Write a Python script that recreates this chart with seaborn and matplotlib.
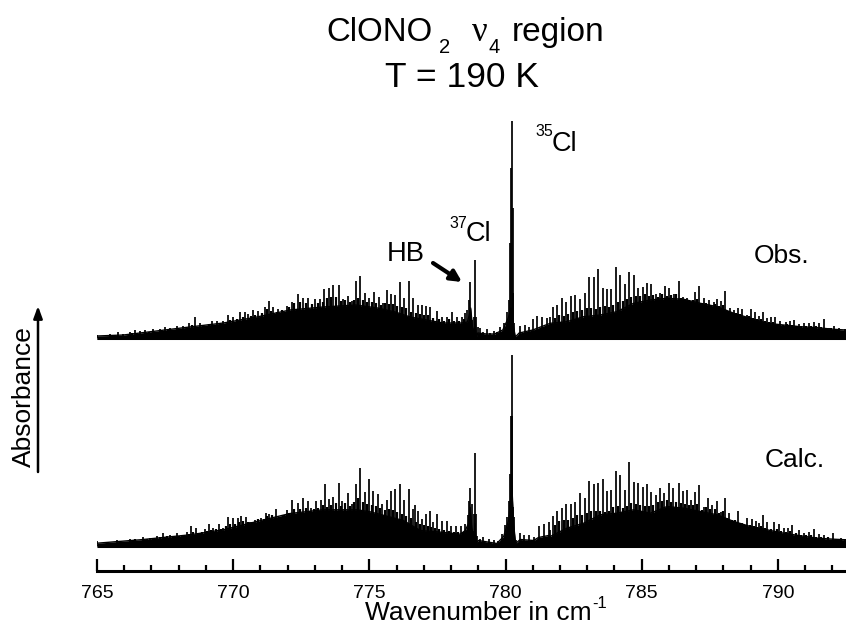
import matplotlib
matplotlib.use("Agg")
import matplotlib.pyplot as plt
import numpy as np
import pandas as pd
import seaborn as sns

# ---- observed spectrum: strong line tops (wavenumber, absorbance in arbitrary units)
obs_wn = [764.99,765.48,765.78,765.97,766.21,766.40,766.58,766.76,767.07,767.31,767.50,767.68,767.93,768.17,768.38,768.60,768.78,769.21,769.40,769.64,769.82,770.01,770.25,770.44,770.56,770.72,770.90,771.15,771.32,771.48,771.66,771.97,772.15,772.37,772.58,772.76,773.01,773.19,773.35,773.52,773.68,773.87,774.05,774.20,774.36,774.52,774.66,774.85,775.00,775.18,775.34,775.49,775.64,775.79,775.95,776.11,776.28,776.45,776.62,776.77,776.93,777.09,777.23,777.48,777.66,777.85,778.03,778.21,778.40,778.52,778.58,778.64,778.70,778.76,778.83,778.86,778.89,778.91,778.95,778.98,779.07,779.19,779.32,779.44,779.56,779.68,779.81,779.93,780.05,780.14,780.17,780.20,780.23,780.26,780.28,780.32,780.36,780.54,780.72,780.85,781.01,781.15,781.34,781.52,781.64,781.74,781.89,782.07,782.22,782.40,782.56,782.72,782.90,783.07,783.23,783.39,783.56,783.72,783.88,784.05,784.21,784.39,784.54,784.70,784.86,785.05,785.19,785.35,785.52,785.68,785.84,786.00,786.17,786.36,786.50,786.66,786.79,786.94,787.12,787.28,787.46,787.64,787.77,787.92,788.07,788.25,788.40,788.52,788.68,788.87,789.03,789.17,789.30,789.45,789.60,789.75,789.91,790.09,790.28,790.43,790.58,790.77,790.95,791.13,791.32,791.50,791.71,791.87,792.05,792.24,792.48]
obs_abs = [3,4,6.3,4,6.3,7.7,6.7,8.3,8.7,8.7,11.3,10.3,12,12,14.7,20.7,14.7,16.7,17,17,23,21.3,25.7,26.3,23.7,27.7,27,30.7,36.7,30.7,28.7,32,36,44.3,39.7,39.7,38.7,38.7,49.3,50.3,52.7,52.7,38.7,42,37.3,57,62,45,39.7,46,41.3,34.7,48,43.7,43,56.3,39.7,57,39.7,33,33,32.3,31.3,27.3,21.3,21.3,26.3,21.3,21.3,24.7,28,38,55.7,18,8,21,78,21,0.5,11,9.7,6.3,8.7,5.3,7.3,6.3,11.3,14.7,26.3,38,94.7,170,217,130,44.7,14.7,1.3,12,13,11.3,18.7,22.3,20.7,19.7,21.3,30.7,33,39.7,36.3,42,42.7,39,45.3,60.7,60.7,68.7,49.7,48.7,48.7,70.7,63,54,66.3,63.3,49.7,50.7,54.7,54,43.7,44.7,52,49.7,43.7,57.3,41.3,39.7,37.3,46,52,39.7,38,36.3,38.7,37.3,47,29.7,28,29.7,29,23,28.7,26.3,22,26.3,20.3,20.7,21.3,17,16.3,17,18,14,14.7,14.7,15.7,14.7,18.7,10.3,12,9.7,8.7]

# weaker lines standing on the background
obs_weak_wn = [766.3,766.9,767.2,767.6,768.0,768.5,768.9,769.1,769.5,769.9,770.15,770.35,770.65,770.8,771.05,771.25,771.4,771.6,771.8,772.05,772.25,772.47,772.67,772.88,773.1,773.28,773.45,773.6,773.78,773.96,774.12,774.28,774.44,774.6,774.76,774.92,775.1,775.26,775.42,775.57,775.72,775.87,776.03,776.2,776.36,776.54,776.7,776.85,777.0,777.16,777.35,777.57,777.75,777.94,778.12,778.3,778.46,781.8,781.98,782.15,782.31,782.48,782.64,782.81,782.98,783.15,783.31,783.47,783.64,783.8,783.96,784.13,784.3,784.46,784.62,784.78,784.95,785.12,785.27,785.43,785.6,785.76,785.92,786.08,786.26,786.43,786.58,786.72,786.87,787.03,787.2,787.37,787.55,787.7,787.85,788.0,788.16,788.32,788.46,788.6,788.78,788.95,789.1,789.24,789.38,789.52,789.68,789.83,790.0,790.18,790.35,790.5,790.68,790.86,791.04,791.22,791.41,791.6,791.8,791.96,792.15]
obs_weak_abs = [5,6,6.5,8,9,13,13,14,15.5,18,19,21,22,23,25,29,27,26,28,31,35,36,35,34,35,36,40,41,41,37,38,36,38,40,38,36,36,35,33,35,34,34,32,31,30,26,25,24,23,23,20,19,17,19,17,17,19,20,23,22,24,26,27,28,30,30,29,31,32,31,33,36,37,39,41,42,42,44,42,43,41,44,42,43,44,40,39,38,38,39,35,35,33,34,32,33,27,25,25,24,21,22,20,19,19,17,16,16,14,13.5,14,13.5,12,12,12,12,12,11,9,10,9]

# observed dense background of unresolved lines
obs_body_wn = [765,765.97,768.4,769.64,770.87,772.09,773.3,774.5,775.3,775.95,776.5,777.1,777.7,778.4,778.6,778.66,778.72,778.78,778.84,778.89,778.93,778.98,779.3,779.6,779.9,780.1,780.2,780.3,780.36,780.5,781,781.64,782.25,782.87,783.48,784.09,784.7,785.32,785.93,786.54,787.15,787.77,788.38,788.99,789.6,790.21,790.83,791.44,792.05,792.5]
obs_body_abs = [2,3,11,15,21,28,31,33,30,26,21,18,15,15,16,22,30,12,4,18,0.5,5,4,4,8,20,30,10,1,5,8,14.7,16.3,21.3,23,26.3,34.7,38,39.7,38.7,34.7,31.3,24.7,19.7,14.7,13,11.3,10.3,8.7,8]

# ---- calculated spectrum
calc_wn = [764.99,765.35,765.72,766.21,766.70,766.95,767.19,767.44,767.68,767.93,768.11,768.29,768.45,768.62,768.78,768.97,769.10,769.27,769.47,769.64,769.82,769.98,770.17,770.29,770.46,770.62,770.80,771.03,771.20,771.32,771.56,771.75,771.97,772.15,772.37,772.58,772.74,772.85,773.05,773.22,773.38,773.52,773.68,773.88,774.01,774.20,774.36,774.52,774.66,774.85,775.00,775.15,775.31,775.48,775.64,775.79,775.95,776.11,776.28,776.44,776.61,776.66,776.77,776.93,777.08,777.23,777.33,777.48,777.66,777.85,778.01,778.19,778.36,778.52,778.61,778.65,778.70,778.75,778.80,778.84,778.88,778.91,778.95,779.07,779.19,779.38,779.56,779.74,779.87,779.99,780.07,780.14,780.17,780.20,780.22,780.25,780.27,780.30,780.37,780.52,780.66,780.85,781.03,781.21,781.40,781.58,781.64,781.74,781.89,782.07,782.22,782.40,782.54,782.72,782.90,783.07,783.23,783.39,783.56,783.72,783.88,784.05,784.21,784.39,784.54,784.70,784.86,785.05,785.19,785.35,785.51,785.68,785.83,786.01,786.15,786.36,786.50,786.66,786.81,786.94,787.12,787.28,787.42,787.58,787.77,787.92,788.06,788.19,788.52,788.68,788.87,789.05,789.20,789.30,789.45,789.60,789.87,790.03,790.21,790.36,790.52,790.77,790.95,791.13,791.32,791.50,791.68,792.03,792.30,792.48]
calc_abs = [4.7,4,5.7,6.3,9,8,9.7,12.3,10.7,12.3,10.7,14,19.7,17.3,12.3,16.3,21.3,17.3,21.7,17.3,29,27.3,28,30,28.3,24,25.7,28,32.3,31.3,37,29,35.7,45.7,42.3,48,45,37.3,45,45.7,61.7,46.3,49,62.3,45,52.3,41.7,61.7,78,54,66.3,54.3,51.3,42,46,54.3,57,62,45.3,57,37,41,34.7,27,31.3,34.7,23.7,32,24.3,24.3,19.3,19.3,19.7,22,30.3,45,58,42,15,32,92.7,32,10,7,8.7,7,6,4.7,12,20.3,28.7,45,72,130,191,130,38.7,28.7,5.3,12.7,11,10.3,8.7,19.3,21.3,23.7,15.7,29.7,34.7,38,41.3,41.3,44,52.3,47.3,64.7,61.7,63,66.3,55,55.7,74.3,70.7,55.7,83.7,64,62.3,59,61.3,54,50.7,57.3,53,62.3,57.3,62.3,55,55.7,45.7,53.3,60.7,39,47.3,40.7,45,34,47.3,32.3,35,22.3,27.3,26.7,24.7,23,30.7,23.3,23.7,21.7,17.3,17.3,20.7,15.7,12.3,14,16.7,11.3,10.7,12.3,7.3,6.7]

calc_weak_wn = [766.4,766.85,767.05,767.3,767.56,767.8,768.0,768.2,768.37,768.53,768.7,768.87,769.03,769.18,769.37,769.55,769.73,769.9,770.08,770.23,770.37,770.54,770.7,770.92,771.12,771.26,771.44,771.65,771.85,772.06,772.25,772.47,772.66,772.8,772.95,773.13,773.3,773.45,773.6,773.78,773.95,774.1,774.28,774.44,774.6,774.76,774.92,775.08,775.23,775.4,775.56,775.72,775.87,776.03,776.2,776.36,776.52,776.72,776.85,777.0,777.16,777.28,777.4,777.57,777.75,777.93,778.1,778.27,778.44,781.8,781.98,782.15,782.31,782.47,782.63,782.81,782.98,783.15,783.31,783.47,783.64,783.8,783.96,784.13,784.3,784.46,784.62,784.78,784.95,785.12,785.27,785.43,785.6,785.75,785.92,786.08,786.26,786.43,786.58,786.73,786.87,787.03,787.2,787.35,787.5,787.68,787.85,787.99,788.12,788.3,788.44,788.6,788.78,788.96,789.12,789.25,789.38,789.53,789.73,789.95,790.12,790.28,790.44,790.65,790.86,791.04,791.22,791.41,791.6,791.85,792.15]
calc_weak_abs = [6.5,7,7.5,9,9.5,10,10,11,12,14,13,14,15,16,17,17,20,22,22,24,25,24,24,27,27,30,31,28,31,33,37,37,38,35,37,38,41,39,41,43,40,43,40,44,48,44,42,41,40,38,36,37,36,34,32,30,28,24,22,21,20,19,18,17,16,15,14,14,14,21,25,26,26,28,31,31,33,35,35,35,34,35,39,40,38,40,43,42,41,40,40,41,44,45,46,44,44,43,42,41,41,42,36,39,37,37,33,35,28,26,26,23,21,21,20,19,20,18,17,17,15,14,15,13,11,11,11,9,9,9,7]

calc_body_wn = [765,766.58,768.42,769.64,770.87,772.09,773.3,774.54,775.03,776.25,776.87,777.48,778.34,778.52,778.64,778.7,778.76,778.83,778.88,778.92,779.0,779.68,779.93,780.11,780.17,780.23,780.3,780.37,780.54,781.03,781.21,781.58,781.64,782.25,782.87,783.48,784.09,784.7,785.32,785.93,786.54,787.15,787.77,788.38,788.99,789.6,790.21,790.83,791.44,792.05,792.5]
calc_body_abs = [2.3,5.7,10.7,15.7,24,32,35.7,35.7,33.7,25,15,13.7,11.3,15,22,38,18,5,22,2,5,2,9,25,40,60,20,2,6,5,8,10,9,17.3,22.3,30.7,32.3,35.7,32.3,39,37.3,34,30.7,24,19,15.7,12.3,9.7,7.3,6.3,5.7]

major_ticks = [765,770,775,780,785,790]
minor_ticks = [766,767,768,769,771,772,773,774,776,777,778,779,781,782,783,784,786,787,788,789,791,792]
obs_offset = 207.5

sns.set_theme(style="white")
plt.rcParams["font.family"] = ["Liberation Sans", "DejaVu Sans"]

W, H = 846, 627
fig = plt.figure(figsize=(W / 100, H / 100), dpi=100, facecolor="white")
ax = fig.add_axes([97 / W, 1 - 571 / H, 1 - 97 / W, 471 / H])
ax.set_xlim(765, 792.5)
ax.set_ylim(-25.5, 445.5)


def spectrum(wn, ab, weak_wn, weak_ab, body_wn, body_ab, offset):
    body = pd.DataFrame({"wn": body_wn, "ab": np.array(body_ab) + offset})
    ax.fill_between(body["wn"], offset - 1.2, body["ab"], color="black", lw=0)
    sns.lineplot(data=body, x="wn", y="ab", estimator=None, sort=False,
                 color="black", lw=1.0, ax=ax, legend=False)
    ax.plot([765, 792.5], [offset, offset], color="black", lw=2.2, solid_capstyle="butt")
    ax.vlines(weak_wn, offset, np.array(weak_ab) + offset, color="black", lw=1.6)
    ax.vlines(wn, offset, np.array(ab) + offset, color="black", lw=1.25)


spectrum(obs_wn, obs_abs, obs_weak_wn, obs_weak_abs, obs_body_wn, obs_body_abs, obs_offset)
spectrum(calc_wn, calc_abs, calc_weak_wn, calc_weak_abs, calc_body_wn, calc_body_abs, 0)

for s in ("top", "left", "right"):
    ax.spines[s].set_visible(False)
ax.spines["bottom"].set_linewidth(2.2)
ax.spines["bottom"].set_color("black")
ax.set_yticks([])
ax.set_xticks(major_ticks)
ax.set_xticks(minor_ticks, minor=True)
ax.tick_params(axis="x", which="major", direction="in", length=8.5, width=1.6,
               color="black", labelsize=14, labelcolor="black", pad=10, bottom=True)
ax.tick_params(axis="x", which="minor", direction="in", length=4.5, width=1.6,
               color="black", bottom=True)
ax.set_xlabel("")
ax.set_ylabel("")
for lab in ax.get_xticklabels():
    lab.set_clip_on(False)


def txt(x, y, s, size, **kw):
    kw.setdefault("ha", "center")
    kw.setdefault("va", "center")
    fig.text(x / W, 1 - y / H, s, fontsize=size, color="black", **kw)


def base(x, y, s, size, **kw):
    txt(x, y, s, size, ha="left", va="baseline", **kw)


# title pieces
base(326, 41, "ClONO", 23.8)
base(439, 53, "2", 14.5)
base(472, 41, "\u03bd", 25, family="Liberation Serif")
base(488, 53, "4", 14.5)
base(512, 41, "region", 24)
base(385, 87, "T = 190 K", 25.5)

# isotope labels
base(535, 136, "35", 11.5)
base(552, 151, "Cl", 19.5)
base(449, 228, "37", 11.5)
base(466, 241, "Cl", 19.5)
txt(406, 254, "HB", 19.7)
txt(782, 256, "Obs.", 19)
txt(795, 460, "Calc.", 19)

base(365, 620, "Wavenumber in cm", 19)
base(592, 608, "-1", 12)
txt(24, 397, "Absorbance", 19, rotation=90)

ov = fig.add_axes([0, 0, 1, 1], facecolor="none")
ov.set_xlim(0, W)
ov.set_ylim(H, 0)
ov.axis("off")
ov.annotate("", xy=(462, 282), xytext=(433, 263),
            arrowprops=dict(arrowstyle="-|>,head_length=0.55,head_width=0.28", color="black", lw=3, shrinkA=0, shrinkB=0))
ov.annotate("", xy=(38, 306), xytext=(38, 472),
            arrowprops=dict(arrowstyle="-|>,head_length=0.6,head_width=0.22", color="black", lw=1.8, shrinkA=0, shrinkB=0))

fig.savefig("out.png", dpi=100, facecolor="white")
